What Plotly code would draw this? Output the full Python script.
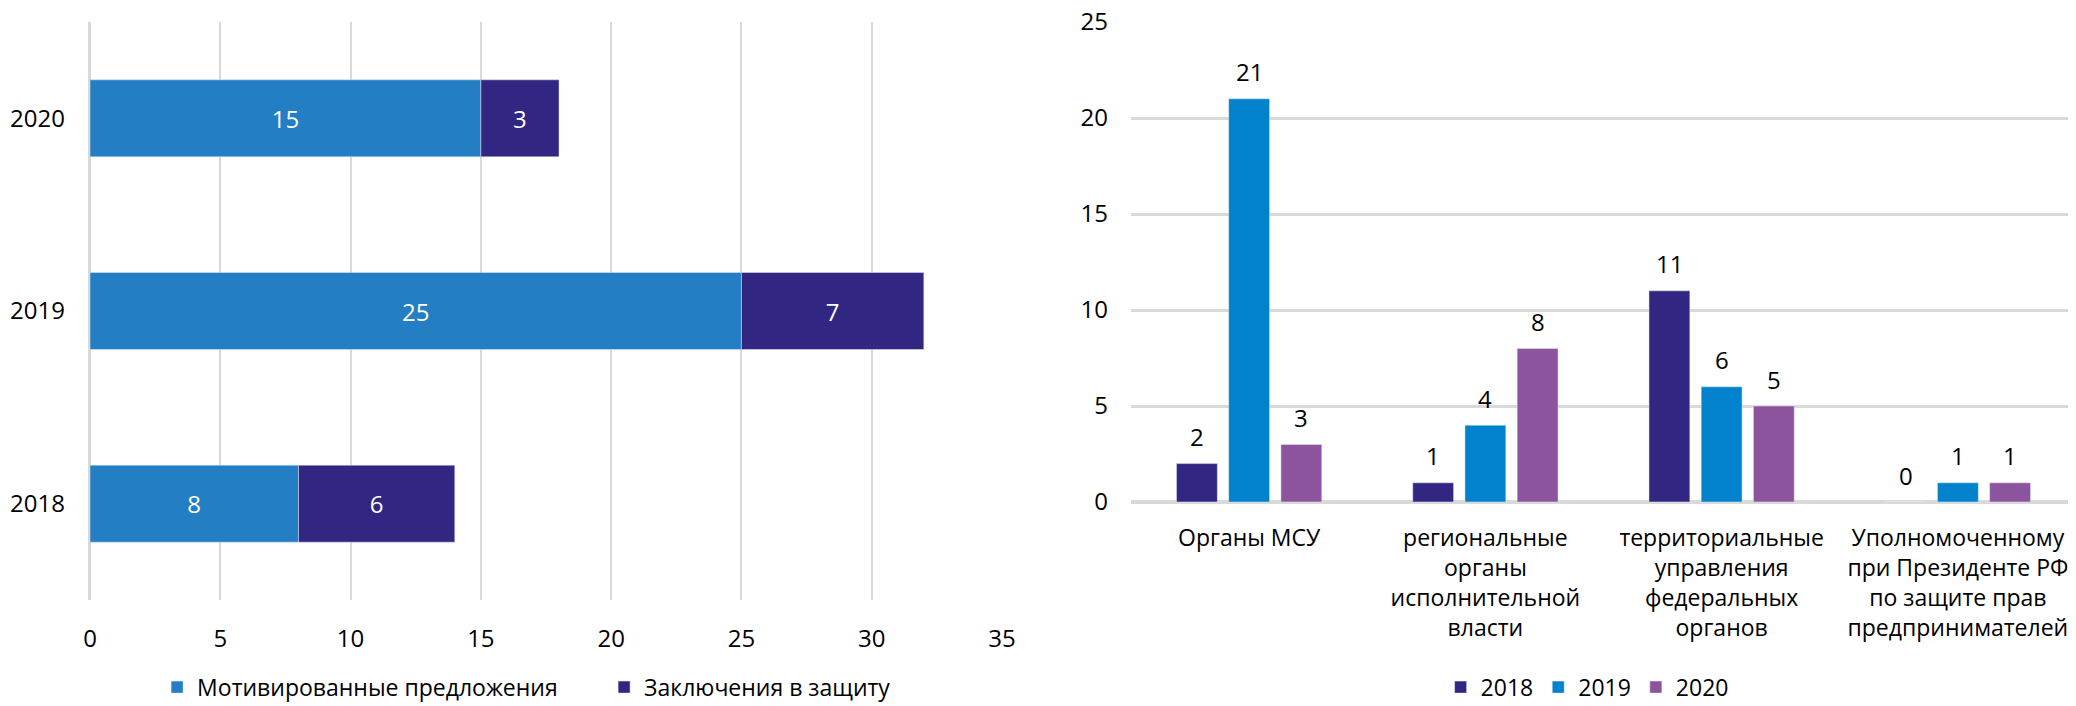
import plotly.graph_objects as go

# Left chart data
years = ["2018", "2019", "2020"]
motivated = [8, 25, 15]
conclusions = [6, 7, 3]
left_series = ["Мотивированные предложения", "Заключения в защиту"]
left_ticks = [0, 5, 10, 15, 20, 25, 30, 35]

# Right chart data
bodies = [
    "Органы МСУ",
    "региональные<br>органы<br>исполнительной<br>власти",
    "территориальные<br>управления<br>федеральных<br>органов",
    "Уполномоченному<br>при Президенте РФ<br>по защите прав<br>предпринимателей",
]
right_series = ["2018", "2019", "2020"]
v2018 = [2, 1, 11, 0]
v2019 = [21, 4, 6, 1]
v2020 = [3, 8, 5, 1]
right_ticks = [0, 5, 10, 15, 20, 25]

FONT = "Open Sans"
FS = 24      # numbers
FT = 23      # words
GRID = "#d9d9d9"

fig = go.Figure()

fig.add_trace(go.Bar(
    y=years, x=motivated, orientation="h", name=left_series[0],
    marker=dict(color="#237EC3"), width=0.4, offset=-0.2, offsetgroup="L",
    text=motivated, textposition="inside", insidetextanchor="middle",
    textfont=dict(color="white", size=FS, family=FONT),
    xaxis="x", yaxis="y", legend="legend",
))
fig.add_trace(go.Bar(
    y=years, x=conclusions, base=motivated, orientation="h", name=left_series[1],
    marker=dict(color="#312782"), width=0.4, offset=-0.2, offsetgroup="L",
    text=conclusions, textposition="inside", insidetextanchor="middle",
    textfont=dict(color="white", size=FS, family=FONT),
    xaxis="x", yaxis="y", legend="legend",
))

BW = 0.173
centers = [-0.221, 0.0, 0.221]
colors = ["#312782", "#0282CC", "#8D549E"]
annotations = []
for k, (name, vals) in enumerate(zip(right_series, [v2018, v2019, v2020])):
    fig.add_trace(go.Bar(
        x=bodies, y=vals, name=name, marker=dict(color=colors[k]),
        width=BW, offset=centers[k] - BW / 2, offsetgroup=name,
        xaxis="x2", yaxis="y2", legend="legend2",
    ))
    for i, v in enumerate(vals):
        annotations.append(dict(
            x=i + centers[k], y=v, xref="x2", yref="y2", text=str(v),
            showarrow=False, yshift=27, yanchor="middle", xanchor="center",
            font=dict(size=FS, family=FONT, color="black"),
        ))

# page body adds an 8px offset, so the figure is 8px smaller
fig.update_layout(
    width=2068, height=698,
    margin=dict(l=0, r=0, t=0, b=0, autoexpand=False),
    paper_bgcolor="white", plot_bgcolor="rgba(0,0,0,0)",
    font=dict(family=FONT, size=FS, color="black"),
    barmode="group",
    showlegend=True,
    annotations=annotations,
    xaxis=dict(domain=[0.03965, 0.48066], range=[0, 35], tickvals=left_ticks,
               showgrid=True, gridcolor=GRID, gridwidth=2, zeroline=True,
               zerolinecolor=GRID, zerolinewidth=3, showline=False,
               ticklabelstandoff=22, anchor="y", automargin=False,
               ticklabeloverflow="allow"),
    yaxis=dict(domain=[0.15186, 0.97994], type="category", categoryorder="array",
               categoryarray=years, range=[-0.5, 2.5], showgrid=False,
               ticklabelstandoff=24, anchor="x", automargin=False),
    xaxis2=dict(domain=[0.54304, 1.0], type="category", showgrid=False,
                range=[-0.5, 3.5], tickfont=dict(size=FT),
                showline=False, ticklabelstandoff=20, anchor="y2", automargin=False),
    yaxis2=dict(domain=[0.29226, 0.97994], range=[0, 25], tickvals=right_ticks,
                showgrid=True, gridcolor=GRID, gridwidth=3, zeroline=True,
                zerolinecolor=GRID, zerolinewidth=4, ticklabelstandoff=22,
                anchor="x2", automargin=False, ticklabeloverflow="allow"),
    legend=dict(orientation="h", x=0.0721, xanchor="left", y=0.027, yanchor="middle",
                font=dict(size=FT, family=FONT), bgcolor="rgba(0,0,0,0)",
                itemwidth=30, traceorder="normal", entrywidth=402),
    legend2=dict(orientation="h", x=0.7636, xanchor="center", y=0.027, yanchor="middle",
                 font=dict(size=FT, family=FONT), bgcolor="rgba(0,0,0,0)",
                 itemwidth=30, traceorder="normal"),
)

fig.write_html("out.html")
